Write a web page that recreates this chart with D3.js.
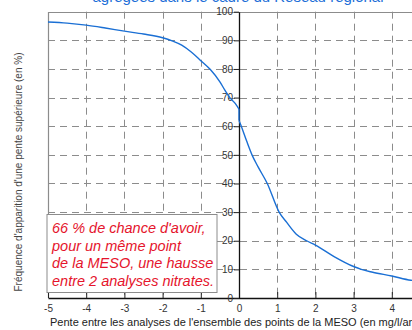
<!DOCTYPE html>
<html>
<head>
<meta charset="utf-8">
<script src="https://cdn.jsdelivr.net/npm/d3@7"></script>
<style>
  html, body { margin: 0; padding: 0; background: #fff; overflow: hidden; }
  svg { display: block; font-family: Arial, "Liberation Sans", sans-serif; }
</style>
</head>
<body>
<svg id="chart" width="412" height="330"></svg>
<script>
// Pente (mg/l/an) et fréquence d'apparition d'une pente supérieure (%)
const slope = [-5, -4.5, -4, -3.5, -3, -2.5, -2, -1.75, -1.5, -1.25, -1, -0.75, -0.5, -0.37, -0.24, -0.1, 0, 0,
               0.05, 0.2, 0.34, 0.5, 0.74, 1.05, 1.25, 1.5, 1.77, 2, 2.5, 3, 3.2, 3.5, 4, 4.5, 4.7];
const freq  = [96.4, 96.0, 95.3, 94.3, 93.2, 92.2, 90.9, 89.8, 88.3, 85.9, 82.9, 79.8, 75.5, 72.6, 70, 68, 66, 62,
               60.3, 54.8, 50, 45.8, 40, 30, 26.4, 22.3, 20, 18.5, 14.4, 11, 10, 9, 7.7, 6.2, 5.9];

const xTicks = [-5, -4, -3, -2, -1, 0, 1, 2, 3, 4];
const yTicks = [0, 10, 20, 30, 40, 50, 60, 70, 80, 90, 100];

const titleText = "agrégées dans le cadre du Réseau régional";
const xLabel = "Pente entre les analyses de l'ensemble des points de la MESO (en mg/l/an)";
const yLabel = "Fréquence d'apparition d'une pente supérieure (en %)";
const noteLines = [
  "66 % de chance d'avoir,",
  "pour un même point",
  "de la MESO, une hausse",
  "entre 2 analyses nitrates."
];

const svg = d3.select("#chart");
const plotLeft = 48, plotTop = 11.7, plotBottom = 298, plotRight = 430;

const x = d3.scaleLinear().domain([-5, 5]).range([plotLeft, plotRight]);
const y = d3.scaleLinear().domain([0, 100]).range([plotBottom, plotTop]);

// Titre (partiellement hors cadre en haut)
svg.append("text")
  .attr("x", 238).attr("y", 2)
  .attr("text-anchor", "middle")
  .attr("font-size", 15)
  .attr("fill", "#1d6fd8")
  .text(titleText);

// Grille pointillée
const grid = svg.append("g").attr("stroke", "#8c8c8c").attr("stroke-width", 1)
  .attr("stroke-dasharray", "7,5");
grid.selectAll("line.v").data(xTicks.filter(d => d > -5 && d !== 0)).join("line")
  .attr("class", "v")
  .attr("x1", d => Math.round(x(d)) + 0.5).attr("x2", d => Math.round(x(d)) + 0.5)
  .attr("y1", plotTop).attr("y2", plotBottom);
grid.selectAll("line.h").data(yTicks.filter(d => d > 0 && d < 100)).join("line")
  .attr("class", "h")
  .attr("x1", plotLeft).attr("x2", plotRight)
  .attr("y1", d => Math.round(y(d)) + 0.5).attr("y2", d => Math.round(y(d)) + 0.5);

// Cadre (bords gauche et haut)
svg.append("path")
  .attr("d", `M${plotLeft + 0.5},${plotBottom} V${Math.round(plotTop) + 0.5} H${plotRight}`)
  .attr("fill", "none").attr("stroke", "#8c8c8c").attr("stroke-width", 1.2);

// Axe des abscisses
const gx = svg.append("g")
  .attr("transform", `translate(0,${plotBottom})`)
  .call(d3.axisBottom(x).tickValues(xTicks).tickFormat(d => String(d))
    .tickSizeInner(-6).tickSizeOuter(0).tickPadding(7));
gx.select(".domain").attr("stroke", "#111").attr("stroke-width", 1.3);
gx.selectAll(".tick line").attr("stroke", "#222");
gx.selectAll(".tick text").attr("font-size", 10).attr("fill", "#333")
  .attr("font-family", "Arial, 'Liberation Sans', sans-serif");

// Axe des ordonnées en x = 0
const gy = svg.append("g")
  .attr("transform", `translate(${x(0)},0)`)
  .call(d3.axisLeft(y).tickValues(yTicks).tickSizeInner(5).tickSizeOuter(0).tickPadding(1));
gy.select(".domain").attr("stroke", "#111").attr("stroke-width", 1.3);
gy.selectAll(".tick line").attr("stroke", "#222");
gy.selectAll(".tick text").attr("font-size", 10).attr("fill", "#333")
  .attr("font-family", "Arial, 'Liberation Sans', sans-serif");

// Courbe de fréquence : deux tronçons de part et d'autre du saut en 0
svg.append("clipPath").attr("id", "plot-clip")
  .append("rect").attr("x", plotLeft).attr("y", plotTop)
  .attr("width", plotRight - plotLeft).attr("height", plotBottom - plotTop);

const points = slope.map((s, i) => [s, freq[i]]);
const jump = slope.findIndex((s, i) => i > 0 && s === slope[i - 1]);
const segments = [points.slice(0, jump), points.slice(jump)];

const smooth = d3.line().x(d => x(d[0])).y(d => y(d[1])).curve(d3.curveMonotoneX);
const curve = svg.append("g").attr("clip-path", "url(#plot-clip)")
  .attr("fill", "none").attr("stroke", "#1a6fd4").attr("stroke-width", 1.4);
curve.selectAll("path").data(segments).join("path").attr("d", smooth);
// raccord vertical du saut
curve.append("path").attr("d", d3.line().x(d => x(d[0])).y(d => y(d[1]))(points.slice(jump - 1, jump + 1)));

// Encadré d'annotation
svg.append("rect")
  .attr("x", 47).attr("y", 214.5).attr("width", 170).attr("height", 78)
  .attr("fill", "#fff").attr("stroke", "#8c8c8c").attr("stroke-width", 1);
svg.append("g").selectAll("text").data(noteLines).join("text")
  .attr("x", 52).attr("y", (d, i) => 233 + i * 17.5)
  .attr("font-size", 14.5).attr("font-style", "italic")
  .attr("fill", "#e5142c")
  .text(d => d);

// Titres des axes
svg.append("text")
  .attr("transform", "translate(22,172) rotate(-90)")
  .attr("text-anchor", "middle")
  .attr("font-size", 10).attr("fill", "#444")
  .text(yLabel);

svg.append("text")
  .attr("x", 50).attr("y", 326)
  .attr("font-size", 11).attr("fill", "#222")
  .text(xLabel);
</script>
</body>
</html>
